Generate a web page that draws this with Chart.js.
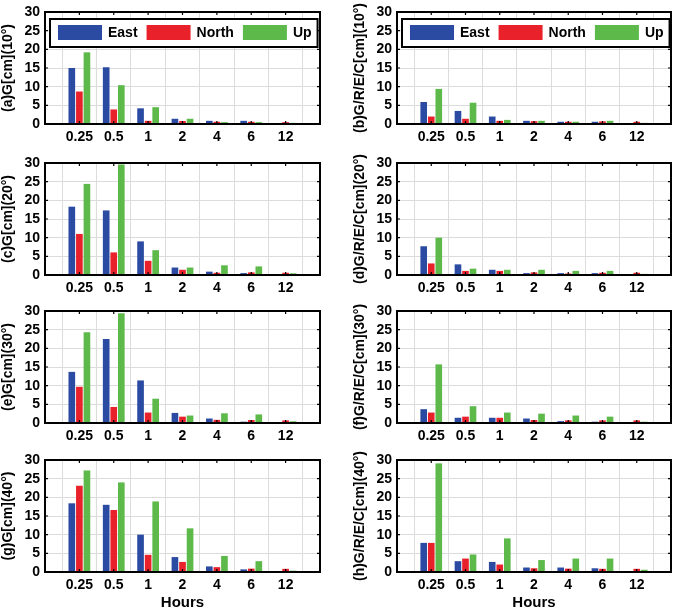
<!DOCTYPE html>
<html>
<head>
<meta charset="utf-8">
<script src="https://cdn.jsdelivr.net/npm/chart.js@4/dist/chart.umd.min.js"></script>
<style>
  body { margin: 0; background: #fff; width: 679px; height: 609px; overflow: hidden; position: relative; }
  canvas { position: absolute; }
</style>
</head>
<body>
<script>
// hours on the x axis
const hours = ["0.25", "0.5", "1", "2", "4", "6", "12"];
const seriesNames = ["East", "North", "Up"];
const seriesColors = ["#2b4ba3", "#e8212b", "#5cb94a"];

const titles = [
    "(a)G[cm](10°)", "(b)G/R/E/C[cm](10°)",
    "(c)G[cm](20°)", "(d)G/R/E/C[cm](20°)",
    "(e)G[cm](30°)", "(f)G/R/E/C[cm](30°)",
    "(g)G[cm](40°)", "(h)G/R/E/C[cm](40°)"
];

// (a) G 10°
const eastA = [15.0, 15.2, 4.2, 1.4, 0.85, 0.85, 0.2];
const northA = [8.7, 3.9, 0.85, 0.8, 0.6, 0.6, 0.5];
const upA = [19.2, 10.4, 4.5, 1.4, 0.5, 0.5, 0.3];
// (b) G/R/E/C 10°
const eastB = [5.9, 3.5, 2.0, 0.85, 0.6, 0.6, 0.2];
const northB = [2.0, 1.4, 0.85, 0.75, 0.6, 0.7, 0.6];
const upB = [9.4, 5.7, 1.1, 0.85, 0.6, 0.85, 0.3];
// (c) G 20°
const eastC = [18.3, 17.3, 9.0, 2.0, 0.9, 0.5, 0.2];
const northC = [11.0, 6.05, 3.8, 1.4, 0.6, 0.7, 0.6];
const upC = [24.4, 29.6, 6.65, 2.0, 2.6, 2.3, 0.45];
// (d) G/R/E/C 20°
const eastD = [7.7, 2.85, 1.4, 0.5, 0.5, 0.5, 0.2];
const northD = [3.1, 1.1, 1.1, 0.7, 0.4, 0.6, 0.6];
const upD = [10.0, 1.7, 1.4, 1.4, 1.1, 1.1, 0.3];
// (e) G 30°
const eastE = [13.7, 22.5, 11.4, 2.7, 1.2, 0.35, 0.25];
const northE = [9.7, 4.3, 2.8, 1.7, 0.85, 0.8, 0.7];
const upE = [24.3, 29.4, 6.5, 2.0, 2.6, 2.3, 0.45];
// (f) G/R/E/C 30°
const eastF = [3.7, 1.4, 1.4, 1.2, 0.5, 0.35, 0.25];
const northF = [2.8, 1.7, 1.4, 0.8, 0.7, 0.7, 0.7];
const upF = [15.7, 4.5, 2.8, 2.5, 2.0, 1.7, 0.35];
// (g) G 40°
const eastG = [18.4, 18.0, 10.0, 4.0, 1.5, 0.7, 0.25];
const northG = [23.1, 16.6, 4.6, 2.7, 1.3, 0.9, 0.85];
const upG = [27.2, 24.0, 18.9, 11.7, 4.3, 2.9, 0.35];
// (h) G/R/E/C 40°
const eastH = [7.8, 2.9, 2.7, 1.2, 1.2, 1.0, 0.25];
const northH = [7.8, 3.6, 2.0, 1.0, 0.9, 0.85, 0.85];
const upH = [29.1, 4.7, 9.0, 3.2, 3.6, 3.6, 0.6];

const yTicks = { min: 0, max: 30, step: 5 };

const panelSeries = [
    [eastA, northA, upA], [eastB, northB, upB],
    [eastC, northC, upC], [eastD, northD, upD],
    [eastE, northE, upE], [eastF, northF, upF],
    [eastG, northG, upG], [eastH, northH, upH]
];

const FONT = "'Liberation Sans', Arial, sans-serif";

// box, inner ticks and legend drawn like a matlab axes
const framePlugin = {
    id: "frame",
    afterDatasetsDraw(chart, args, opts) {
        const ctx = chart.ctx;
        const a = chart.chartArea;
        const xs = chart.scales.x;
        const ys = chart.scales.y;
        ctx.save();
        ctx.strokeStyle = "#000";
        ctx.lineWidth = 1.2;
        ctx.beginPath();
        for (let i = 1; i < chart.data.labels.length - 1; i++) {
            const px = xs.getPixelForValue(i);
            ctx.moveTo(px, a.bottom); ctx.lineTo(px, a.bottom - 3);
            ctx.moveTo(px, a.top); ctx.lineTo(px, a.top + 3);
        }
        for (let v = yTicks.min + yTicks.step; v < yTicks.max; v += yTicks.step) {
            const py = ys.getPixelForValue(v);
            ctx.moveTo(a.left, py); ctx.lineTo(a.left + 3, py);
            ctx.moveTo(a.right, py); ctx.lineTo(a.right - 3, py);
        }
        ctx.stroke();

        if (opts.legend) {
            ctx.font = "bold 14px " + FONT;
            const bx = a.left + 5, by = a.top + 7, bh = 28;
            let x = bx + 8;
            const items = chart.data.datasets.map(ds => {
                const w = ctx.measureText(ds.label).width;
                const it = { x: x, ds: ds, w: w };
                x += 44 + 6 + w + 9;
                return it;
            });
            const bw = x - 9 + 6 - bx;
            ctx.fillStyle = "#fff";
            ctx.fillRect(bx, by, bw, bh);
            ctx.lineWidth = 2;
            ctx.strokeRect(bx, by, bw, bh);
            items.forEach(it => {
                ctx.fillStyle = it.ds.backgroundColor;
                ctx.fillRect(it.x, by + 6, 44, 15);
                ctx.fillStyle = "#000";
                ctx.textBaseline = "middle";
                ctx.fillText(it.ds.label, it.x + 50, by + 14);
            });
        }

        ctx.lineWidth = 2;
        ctx.strokeStyle = "#000";
        ctx.strokeRect(a.left, a.top, a.right - a.left, a.bottom - a.top);
        ctx.restore();
    }
};

document.addEventListener("DOMContentLoaded", () => {
    const cols = [
        { left: 0, width: 325, padLeft: 0, padRight: 2 },
        { left: 340, width: 336, padLeft: 12, padRight: 3 }
    ];
    const rowTops = [0, 151, 299, 448];
    const labels = ["", ...hours, ""];

    panelSeries.forEach((series, p) => {
        const col = cols[p % 2];
        const row = Math.floor(p / 2);
        const last = row === rowTops.length - 1;
        const xHeight = last ? 40 : 22;

        const canvas = document.createElement("canvas");
        canvas.width = col.width;
        canvas.height = 7 + 117 + xHeight;
        canvas.style.left = col.left + "px";
        canvas.style.top = rowTops[row] + "px";
        document.body.appendChild(canvas);

        new Chart(canvas, {
            type: "bar",
            data: {
                labels: labels,
                datasets: series.map((vals, i) => ({
                    label: seriesNames[i],
                    data: [null, ...vals, null],
                    backgroundColor: seriesColors[i],
                    borderWidth: 0,
                    barPercentage: 0.88,
                    categoryPercentage: 0.66
                }))
            },
            options: {
                responsive: false,
                animation: false,
                layout: { padding: { top: 7, left: col.padLeft, right: col.padRight, bottom: 0 } },
                plugins: {
                    legend: { display: false },
                    tooltip: { enabled: false },
                    frame: { legend: row === 0 }
                },
                scales: {
                    x: {
                        offset: false,
                        grid: { color: "#dcdcdc", drawTicks: false },
                        border: { display: false },
                        ticks: {
                            color: "#000", padding: 5, maxRotation: 0, autoSkip: false,
                            font: { family: FONT, size: 14, weight: "bold" }
                        },
                        title: {
                            display: last, text: "Hours", color: "#000", padding: 0,
                            font: { family: FONT, size: 15, weight: "bold" }
                        },
                        afterFit: s => { s.height = xHeight; }
                    },
                    y: {
                        min: yTicks.min,
                        max: yTicks.max,
                        grid: { color: "#dcdcdc", drawTicks: false },
                        border: { display: false },
                        ticks: {
                            stepSize: yTicks.step, autoSkip: false, color: "#000", padding: 5,
                            font: { family: FONT, size: 14, weight: "bold", lineHeight: 1 }
                        },
                        title: {
                            display: true, text: titles[p], color: "#000", padding: 0,
                            font: { family: FONT, size: 14, weight: "bold" }
                        },
                        afterFit: s => { s.width = 45; }
                    }
                }
            },
            plugins: [framePlugin]
        });
    });
});
</script>
</body>
</html>
